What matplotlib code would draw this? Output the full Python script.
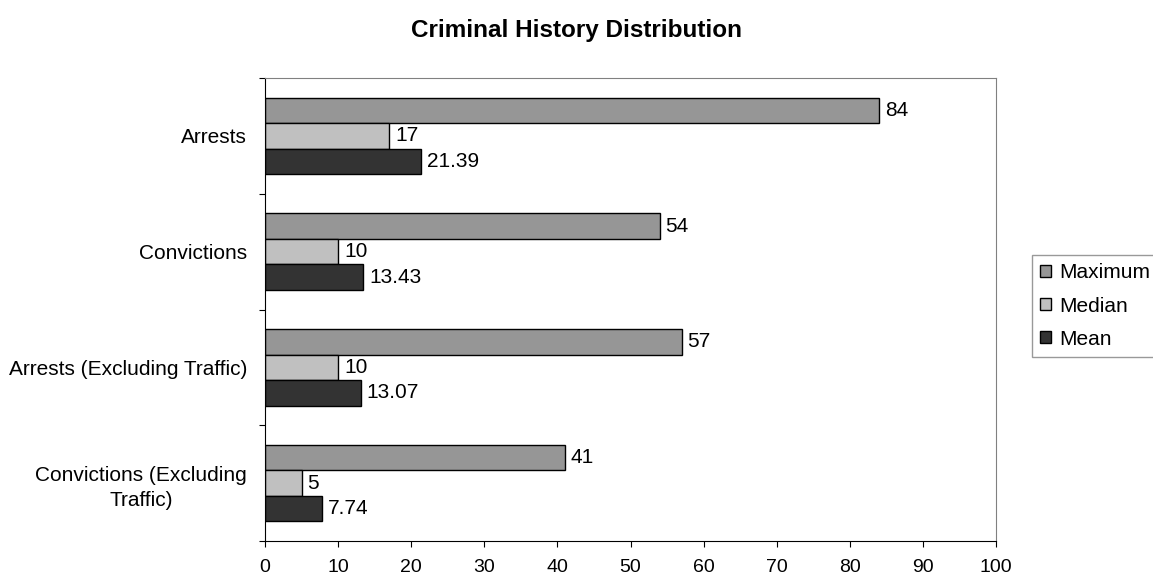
import matplotlib
matplotlib.use("Agg")
import matplotlib.pyplot as plt
import numpy as np

plt.rcParams['font.family'] = ['Liberation Sans', 'DejaVu Sans']

categories = ["Arrests", "Convictions", "Arrests (Excluding Traffic)",
              "Convictions (Excluding\nTraffic)"]
series_names = ["Maximum", "Median", "Mean"]
maximum = [84, 54, 57, 41]
median = [17, 10, 10, 5]
mean = [21.39, 13.43, 13.07, 7.74]
value_labels = [["84", "54", "57", "41"],
                ["17", "10", "10", "5"],
                ["21.39", "13.43", "13.07", "7.74"]]
colors = ["#969696", "#c0c0c0", "#333333"]

fig = plt.figure(figsize=(11.53, 5.79), dpi=100)
ax = fig.add_axes([265 / 1153, 1 - 541 / 579, (996 - 265) / 1153, (541 - 78) / 579])

y = np.arange(len(categories))
h = 0.22
offsets = [-h, 0, h]
for vals, labs, col, off, name in zip([maximum, median, mean], value_labels,
                                      colors, offsets, series_names):
    bars = ax.barh(y + off, vals, height=h, color=col, edgecolor="black",
                   linewidth=1.0, label=name)
    for b, t in zip(bars, labs):
        ax.text(b.get_width() + 0.8, b.get_y() + b.get_height() / 2, t,
                va="center", ha="left", fontsize=15)

ax.set_xlim(0, 100)
ax.set_ylim(len(categories) - 0.5, -0.5)
ax.set_xticks(np.arange(0, 101, 10))
ax.tick_params(axis="x", labelsize=14, length=4, pad=9, direction="out")

# boundary ticks between groups, labels at group centres
ax.set_yticks(np.arange(-0.5, len(categories), 1.0))
ax.set_yticklabels([])
ax.set_yticks(y, minor=True)
ax.set_yticklabels(categories, minor=True, fontsize=15, multialignment="center",
                   linespacing=1.4)
ax.tick_params(axis="y", which="major", length=4, direction="out")
ax.tick_params(axis="y", which="minor", length=0, pad=13)

for side in ["top", "right"]:
    ax.spines[side].set_color("#808080")
for side in ["left", "bottom"]:
    ax.spines[side].set_color("black")

fig.suptitle("Criminal History Distribution", fontsize=17.5, fontweight="bold",
             y=1 - 30 / 579, va="center")

leg = fig.legend(loc="center left", bbox_to_anchor=(1032 / 1153, 1 - 306 / 579),
                 frameon=True, fancybox=False, fontsize=15, handlelength=0.5,
                 handleheight=0.5, handletextpad=0.4, borderpad=0.4,
                 borderaxespad=0, labelspacing=0.68)
leg.get_frame().set_edgecolor("#808080")
leg.get_frame().set_linewidth(1.0)

fig.savefig("out.png", dpi=100)
